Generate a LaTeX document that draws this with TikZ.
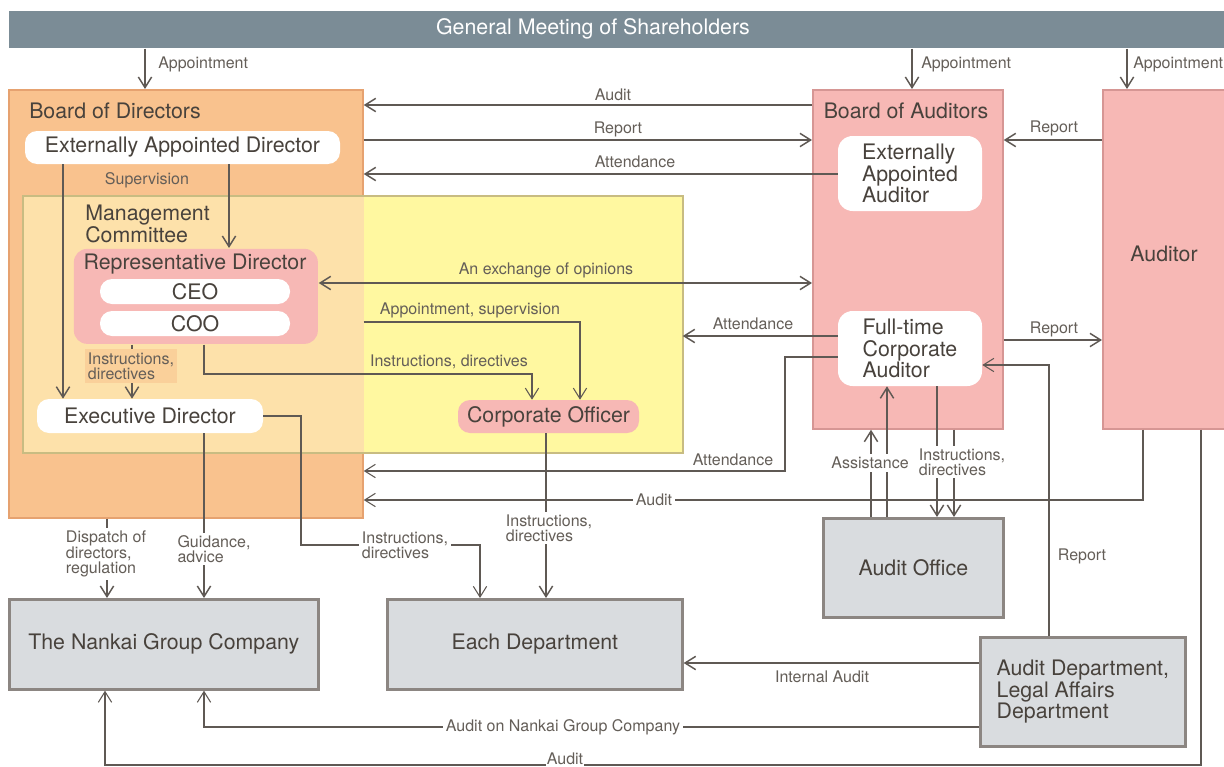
\documentclass[tikz,border=0pt]{standalone}
\usepackage{fontspec}
\setmainfont{TeX Gyre Heros}
\usetikzlibrary{arrows.meta}

\begin{document}
\begin{tikzpicture}[x=0.75pt,y=0.75pt,yscale=-1,xscale=1,
  ttl/.style={text={rgb, 255:red, 72; green, 66; blue, 60 },font=\fontsize{16}{16}\selectfont,inner sep=0.75pt,align=left},
  lbl/.style={text={rgb, 255:red, 100; green, 94; blue, 88 },font=\fontsize{12}{11.5}\selectfont,inner sep=0.75pt,align=left},
  gap/.style={lbl,fill=white,inner sep=2pt},
  panel/.style={ttl,anchor=north west,inner sep=0pt,line width=1.3pt},
  pill/.style={ttl,fill=white,rounded corners=9pt,inner sep=0pt},
  greybox/.style={panel,fill={rgb, 255:red, 217; green, 220; blue, 223 },draw={rgb, 255:red, 140; green, 134; blue, 130 },line width=2pt},
  pinkbox/.style={panel,fill={rgb, 255:red, 247; green, 184; blue, 181 },draw={rgb, 255:red, 214; green, 150; blue, 148 }},
  arr/.style={draw={rgb, 255:red, 95; green, 89; blue, 84 },line width=1.1pt,-{Straight Barb[length=8pt,width=10pt]}},
  tarr/.style={arr,line width=0.8pt},
  arrs/.style={arr,{Straight Barb[length=8pt,width=10pt]}-{Straight Barb[length=8pt,width=10pt]}}
]
\useasboundingbox (0,0) rectangle (1224,767);

%Shape: Rectangle
\node [panel,fill={rgb, 255:red, 123; green, 140; blue, 150 },minimum width=912pt,minimum height=27.75pt] (gms) at (8,10) {};
%Shape: Rectangle
\node [panel,fill={rgb, 255:red, 249; green, 194; blue, 142 },draw={rgb, 255:red, 230; green, 162; blue, 112 },minimum width=265.5pt,minimum height=321pt] (bod) at (8,89) {};
%Shape: Rectangle
\node [panel,fill={rgb, 255:red, 255; green, 248; blue, 160 },minimum width=493.5pt,minimum height=191.25pt] (mc) at (23,196) {};
\fill [fill={rgb, 255:red, 253; green, 225; blue, 170 }] (mc.north west) rectangle (bod.east |- mc.south);
\draw [draw={rgb, 255:red, 200; green, 188; blue, 130 },line width=1.3pt] (mc.north west) rectangle (mc.south east);
%Shape: Rectangle
\node [pinkbox,minimum width=142.5pt,minimum height=254.25pt] (boa) at (812,89) {};
%Shape: Rectangle
\node [pinkbox,minimum width=91.5pt,minimum height=254.25pt] (aud) at (1102,89) {};
%Shape: Rectangle
\node [greybox,minimum width=135pt,minimum height=74.25pt] (aoff) at (822,517) {Audit Office};
%Shape: Rectangle
\node [greybox,minimum width=231.75pt,minimum height=67.5pt] (ngc) at (8,598) {The Nankai Group Company};
%Shape: Rectangle
\node [greybox,minimum width=221.25pt,minimum height=67.5pt] (edep) at (386,598) {Each Department};
%Shape: Rectangle
\node [greybox,minimum width=153.75pt,minimum height=81.75pt] (adep) at (979,636) {Audit Department,\\Legal Affairs\\Department};

%Rounded Rect
\node [pill,minimum width=236.25pt,minimum height=24.75pt] (ead) at (182.5,147.5) {Externally Appointed Director};
\node [pinkbox,draw=none,rounded corners=10pt,minimum width=183pt,minimum height=71.25pt] (repd) at (73,248) {};
\node [pill,minimum width=142.5pt,minimum height=18.75pt] (ceo) at (195,291.5) {CEO};
\node [pill,minimum width=142.5pt,minimum height=18.75pt] (coo) at (195,323.5) {COO};
\node [pill,minimum width=169.5pt,minimum height=25.5pt] (exd) at (150,416) {Executive Director};
\node [pill,fill={rgb, 255:red, 247; green, 184; blue, 181 },minimum width=135.75pt,minimum height=24.75pt] (cof) at (548.5,416.5) {Corporate Officer};
\node [pill,rounded corners=11pt,minimum width=108pt,minimum height=56.25pt] (eaa) at (910,173.5) {Externally\\Appointed\\Auditor};
\node [pill,rounded corners=11pt,minimum width=108pt,minimum height=56.25pt] (ftca) at (910,348.5) {Full-time\\Corporate\\Auditor};

% Text Node
\node [ttl,text=white] (gmst) at (593,29) {General Meeting of Shareholders};
% Text Node
\node [ttl,anchor=west] (bodt) at (28,111) {Board of Directors};
% Text Node
\node [ttl,anchor=west] (mct) at (84,224) {Management\\Committee};
% Text Node
\node [ttl] (repdt) at (195,264) {Representative Director};
% Text Node
\node [ttl] (boat) at (906,111) {Board of Auditors};
% Text Node
\node [ttl] (audt) at (1164,254) {Auditor};

%Straight Lines
\draw [arr] (gms.south -| 145,0) -- (bod.north -| 145,0);
\draw [arr] (gms.south -| 912,0) -- (boa.north -| 912,0);
\draw [arr] (gms.south -| 1127,0) -- (aud.north -| 1127,0);
\draw [arr] (boa.west |- 0,105) -- (bod.east |- 0,105);
\draw [arr] (bod.east |- 0,140) -- (boa.west |- 0,140);
\draw [arr] (eaa.west |- 0,174) -- (bod.east |- 0,174);
\draw [arr] (ead.south -| 63,0) -- (exd.north -| 63,0);
\draw [arr] (ead.south -| 229,0) -- (repd.north -| 229,0);
\draw [arrs] (repd.east |- 0,283) -- (boa.west |- 0,283);
\draw [tarr] (bod.east |- 0,322) -| (cof.north -| 580,0);
\draw [tarr] (repd.south -| 204,0) -- (204,374) -| (cof.north -| 532,0);
\draw [arr] (repd.south -| 132,0) -- (exd.north -| 132,0);
\draw [arr] (ftca.west |- 0,336) -- (mc.east |- 0,336);
\draw [tarr] (ftca.west |- 0,357) -| (785,471) -- (bod.east |- 0,471);
\draw [arr] (aud.west |- 0,140) -- (boa.east |- 0,140);
\draw [arr] (boa.east |- 0,340) -- (aud.west |- 0,340);
\draw [tarr] (aud.south -| 1143,0) |- (bod.east |- 0,500);
\draw [tarr] (aud.south -| 1201,0) |- (105,765) -- (ngc.south -| 105,0);
\draw [arr] (aoff.north -| 871,0) -- (boa.south -| 871,0);
\draw [arr] (aoff.north -| 887,0) -- (ftca.south -| 887,0);
\draw [arr] (ftca.south -| 937,0) -- (aoff.north -| 937,0);
\draw [arr] (boa.south -| 954,0) -- (aoff.north -| 954,0);
\draw [tarr] (adep.north -| 1049,0) |- (ftca.east |- 0,365);
\draw [arr] (adep.west |- 0,663) -- (edep.east |- 0,663);
\draw [tarr] (adep.west |- 0,727) -| (ngc.south -| 204,0);
\draw [arr] (bod.south -| 107,0) -- (ngc.north -| 107,0);
\draw [arr] (exd.south -| 204,0) -- (ngc.north -| 204,0);
\draw [tarr] (exd.east) -| (301,545) -| (edep.north -| 480,0);
\draw [arr] (cof.south -| 546,0) -- (edep.north -| 546,0);

% Text Node
\node [lbl,anchor=west] (ap1) at (157,64) {Appointment};
\node [lbl,anchor=west] (ap2) at (920,64) {Appointment};
\node [lbl,anchor=west] (ap3) at (1132,64) {Appointment};
\node [lbl] (au1) at (613,95) {Audit};
\node [lbl] (re1) at (618,129) {Report};
\node [lbl] (at1) at (635,162) {Attendance};
\node [lbl] (sup) at (147,180) {Supervision};
\node [lbl] (exop) at (546,270) {An exchange of opinions};
\node [lbl] (apsu) at (470,310) {Appointment, supervision};
\node [lbl] (indi1) at (449,362) {Instructions, directives};
\node [lbl,fill={rgb, 255:red, 250; green, 208; blue, 154 },inner sep=2.5pt] (indi2) at (131,366) {Instructions,\\directives};
\node [lbl] (at2) at (753,324) {Attendance};
\node [lbl] (at3) at (733,460) {Attendance};
\node [lbl] (re2) at (1054,128) {Report};
\node [lbl] (re3) at (1054,329) {Report};
\node [gap] (au2) at (654,500) {Audit};
\node [gap] (asst) at (870,463) {Assistance};
\node [gap] (indi3) at (962,462) {Instructions,\\directives};
\node [lbl] (re4) at (1082,556) {Report};
\node [lbl] (inau) at (822,677) {Internal Audit};
\node [gap] (aung) at (563,727) {Audit on Nankai Group Company};
\node [gap,inner sep=1pt] (au3) at (565,759) {Audit};
\node [gap] (disp) at (106,554) {Dispatch of\\directors,\\regulation};
\node [gap] (guad) at (214,549) {Guidance,\\advice};
\node [gap] (indi4) at (405,545) {Instructions,\\directives};
\node [gap] (indi5) at (549,528) {Instructions,\\directives};

\end{tikzpicture}
\end{document}
